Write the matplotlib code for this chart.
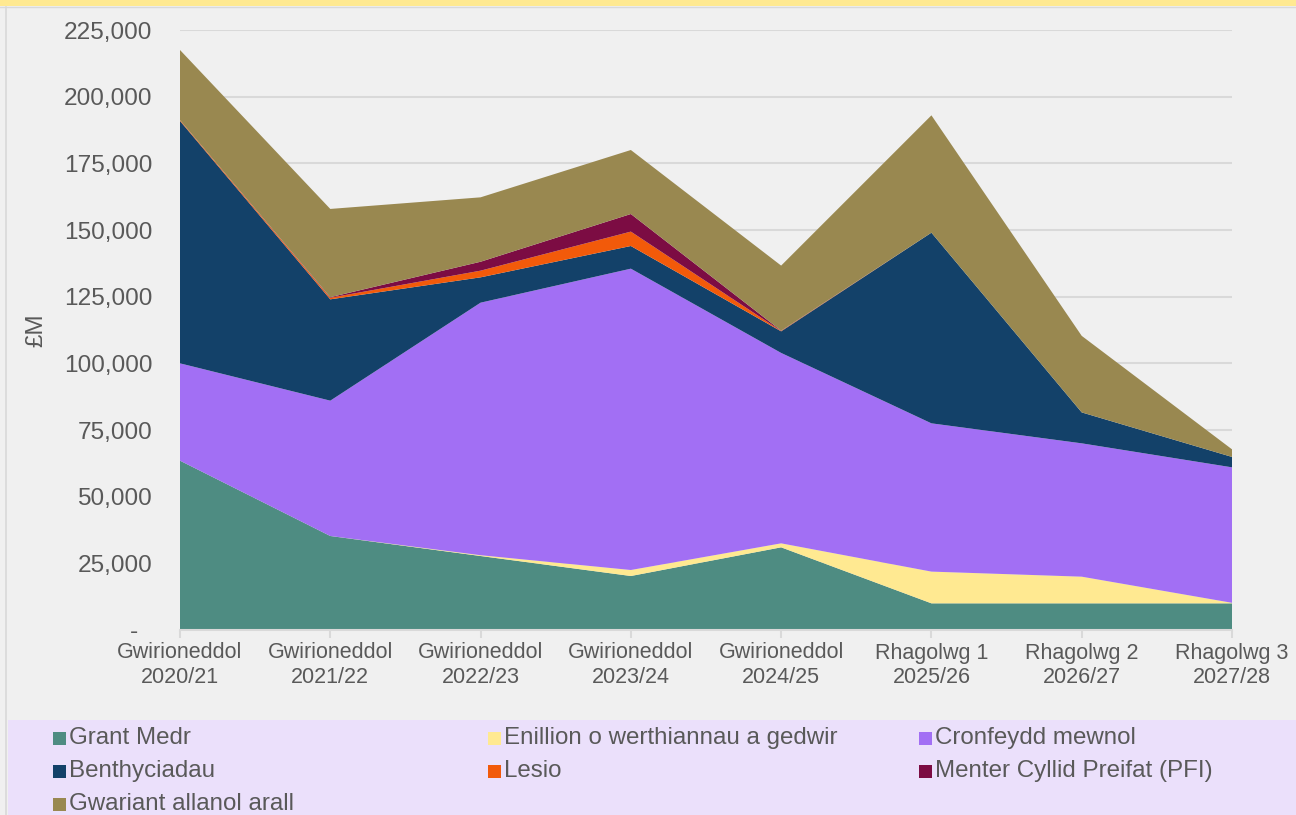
import matplotlib.pyplot as plt
from matplotlib.patches import Rectangle
from matplotlib.ticker import FuncFormatter

plt.rcParams['font.family'] = ['Liberation Sans', 'DejaVu Sans']

years = ['Gwirioneddol\n2020/21', 'Gwirioneddol\n2021/22', 'Gwirioneddol\n2022/23',
         'Gwirioneddol\n2023/24', 'Gwirioneddol\n2024/25', 'Rhagolwg 1\n2025/26',
         'Rhagolwg 2\n2026/27', 'Rhagolwg 3\n2027/28']

grant = [63500, 35250, 27750, 20250, 31000, 10000, 10000, 10000]
enillion = [0, 0, 300, 2250, 1500, 11900, 10000, 200]
cronfeydd = [36500, 50750, 94700, 113000, 71400, 55600, 50000, 50800]
benthyciadau = [90900, 38000, 9500, 8500, 8100, 71500, 11600, 3900]
lesio = [300, 600, 2500, 5400, 150, 0, 0, 0]
pfi = [0, 200, 3350, 6600, 100, 0, 0, 0]
gwariant = [26300, 33100, 24150, 24000, 24400, 44000, 28700, 2850]

names = ['Grant Medr', 'Enillion o werthiannau a gedwir', 'Cronfeydd mewnol',
         'Benthyciadau', 'Lesio', 'Menter Cyllid Preifat (PFI)', 'Gwariant allanol arall']
colors = ['#4E8C82', '#FFE991', '#A26FF4', '#134169', '#F25A0A', '#7C0C43', '#998850']

txt = '#595959'
bg = '#F0F0F0'

fig = plt.figure(figsize=(12.96, 8.15), dpi=100, facecolor=bg)
ax = fig.add_axes([180 / 1296, 1 - 630 / 815, (1232 - 180) / 1296, 600 / 815])
ax.set_facecolor(bg)

x = list(range(len(years)))
ax.stackplot(x, grant, enillion, cronfeydd, benthyciadau, lesio, pfi, gwariant,
             colors=colors, linewidth=0, zorder=3)

ax.set_xlim(0, len(years) - 1)
ax.set_ylim(0, 225000)
ax.set_yticks(range(0, 225001, 25000))
ax.yaxis.set_major_formatter(FuncFormatter(lambda v, p: '-  ' if v == 0 else f'{v:,.0f}'))
ax.grid(axis='y', color='#D9D9D9', linewidth=1.5, zorder=0)
ax.set_xticks(x)
ax.set_xticklabels(years)

for s in ['top', 'right', 'left']:
    ax.spines[s].set_visible(False)
ax.spines['bottom'].set_color('#D9D9D9')
ax.spines['bottom'].set_linewidth(1.5)
ax.spines['bottom'].set_zorder(4)

ax.tick_params(axis='y', length=0, pad=20, labelsize=17.6, labelcolor=txt)
ax.tick_params(axis='x', length=6, width=1.5, color='#D9D9D9', pad=3,
               labelsize=15.5, labelcolor=txt)
ax.set_ylabel('£M', fontsize=17.5, color=txt, labelpad=12)

# top banner and frame
fig.add_artist(Rectangle((0, 1 - 6 / 815), 1, 6 / 815, transform=fig.transFigure,
                         facecolor='#FFE991', edgecolor='none'))
fig.add_artist(plt.Line2D([0, 1], [1 - 7 / 815] * 2, transform=fig.transFigure,
                          color='#D9D9D9', linewidth=1))
fig.add_artist(plt.Line2D([6 / 1296] * 2, [0, 1 - 7 / 815], transform=fig.transFigure,
                          color='#D9D9D9', linewidth=1.2))

# legend box
fig.add_artist(Rectangle((8 / 1296, 0), 1, 95 / 815, transform=fig.transFigure,
                         facecolor='#EBE0FB', edgecolor='none'))
col_x = [53, 488, 919]
row_y = [738, 771, 804]
for i, (name, c) in enumerate(zip(names, colors)):
    cx = col_x[i % 3]
    cy = row_y[i // 3]
    fig.add_artist(Rectangle((cx / 1296, 1 - (cy + 6.5) / 815), 13 / 1296, 13 / 815,
                             transform=fig.transFigure, facecolor=c, edgecolor='none'))
    fig.text((cx + 16) / 1296, 1 - cy / 815, name, fontsize=17.4, color=txt,
             va='center', ha='left')

fig.savefig('out.png', dpi=100, facecolor=bg)
